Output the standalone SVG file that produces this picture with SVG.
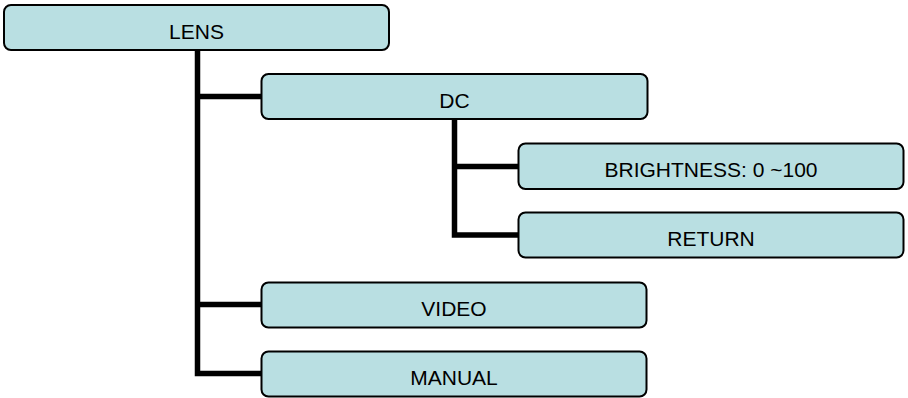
<svg xmlns="http://www.w3.org/2000/svg" width="908" height="398" viewBox="0 0 908 398">
<style>
.box{fill:#B9DFE2;stroke:#000;stroke-width:2}
.lbl{font-family:"Liberation Sans",Arial,sans-serif;font-size:21px;fill:#000;text-anchor:middle}
.con{fill:none;stroke:#000;stroke-width:5.5;stroke-linejoin:miter;stroke-linecap:butt}
</style>
<rect width="908" height="398" fill="#fff"/>
<g id="connectors">
<path class="con" d="M197.5 50 V373.5 H261"/>
<path class="con" d="M197.5 96.5 H261"/>
<path class="con" d="M197.5 304.5 H261"/>
<path class="con" d="M454.5 119 V235 H518"/>
<path class="con" d="M454.5 166.5 H518"/>
</g>
<g id="lens"><rect class="box" x="4" y="5" width="385" height="45" rx="7"/><text class="lbl" x="196.5" y="39">LENS</text></g>
<g id="dc"><rect class="box" x="261.5" y="74" width="386" height="45" rx="7"/><text class="lbl" x="454.5" y="108">DC</text></g>
<g id="brightness"><rect class="box" x="518.5" y="143.5" width="385" height="45.5" rx="7"/><text class="lbl" x="711" y="177">BRIGHTNESS: 0 ~100</text></g>
<g id="return"><rect class="box" x="518.5" y="212.5" width="385" height="45" rx="7"/><text class="lbl" x="711" y="246">RETURN</text></g>
<g id="video"><rect class="box" x="261.5" y="282.5" width="385" height="45" rx="7"/><text class="lbl" x="454" y="316">VIDEO</text></g>
<g id="manual"><rect class="box" x="261.5" y="351.5" width="385" height="45" rx="7"/><text class="lbl" x="454" y="385">MANUAL</text></g>
</svg>
